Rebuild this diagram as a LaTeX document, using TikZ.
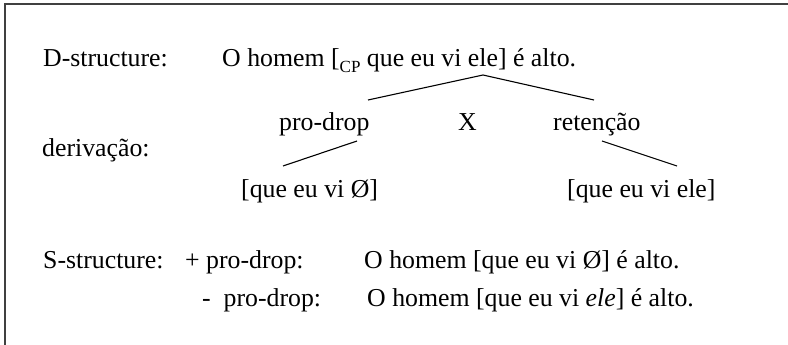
\documentclass[tikz,border=0pt]{standalone}
\usepackage{fontspec}
\setmainfont{Liberation Serif}
\begin{document}
\begin{tikzpicture}[x=1pt,y=-1pt,
  txt/.style={anchor=base west, inner sep=0pt, font=\fontsize{25.8}{30}\selectfont},
  conn/.style={line width=1.1pt},
  frame/.style={line width=1.8pt, black!75}]
\useasboundingbox (0,0) rectangle (788,345);
\draw[frame] (5,360) -- (5,4) -- (800,4);
% labels
\node[txt] (dlab) at (43,67) {D-structure:};
\node[txt] (dsent) at (222,67) {O homem [\raisebox{-0.2em}{\fontsize{17}{17}\selectfont CP} que eu vi ele] é alto.};
\node[txt] (prodrop) at (279,130) {pro-drop};
\node[txt] (x) at (458,130) {X};
\node[txt] (ret) at (553,130) {retenção};
\node[txt] (deriv) at (42,157) {derivação:};
\node[txt] (qz) at (241,197) {[que eu vi Ø]};
\node[txt] (qe) at (567,197) {[que eu vi ele]};
\node[txt] (slab) at (43,268) {S-structure:};
\node[txt] (plus) at (185,268) {+ pro-drop:};
\node[txt] (splus) at (364,268) {O homem [que eu vi Ø] é alto.};
\node[txt] (minus) at (202,306) {-\ \ pro-drop:};
\node[txt] (sminus) at (367,306) {O homem [que eu vi \textit{ele}] é alto.};
% connector ends
\coordinate (apex) at (483,75);
\coordinate (pdtop) at (368,100);
\coordinate (rettop) at (594,100);
\coordinate (pdbot) at (357,141);
\coordinate (qztop) at (283,166);
\coordinate (retbot) at (602,141);
\coordinate (qetop) at (677,166);
\draw[conn] (pdtop) -- (apex) -- (rettop);
\draw[conn] (pdbot) -- (qztop);
\draw[conn] (retbot) -- (qetop);
\end{tikzpicture}
\end{document}
